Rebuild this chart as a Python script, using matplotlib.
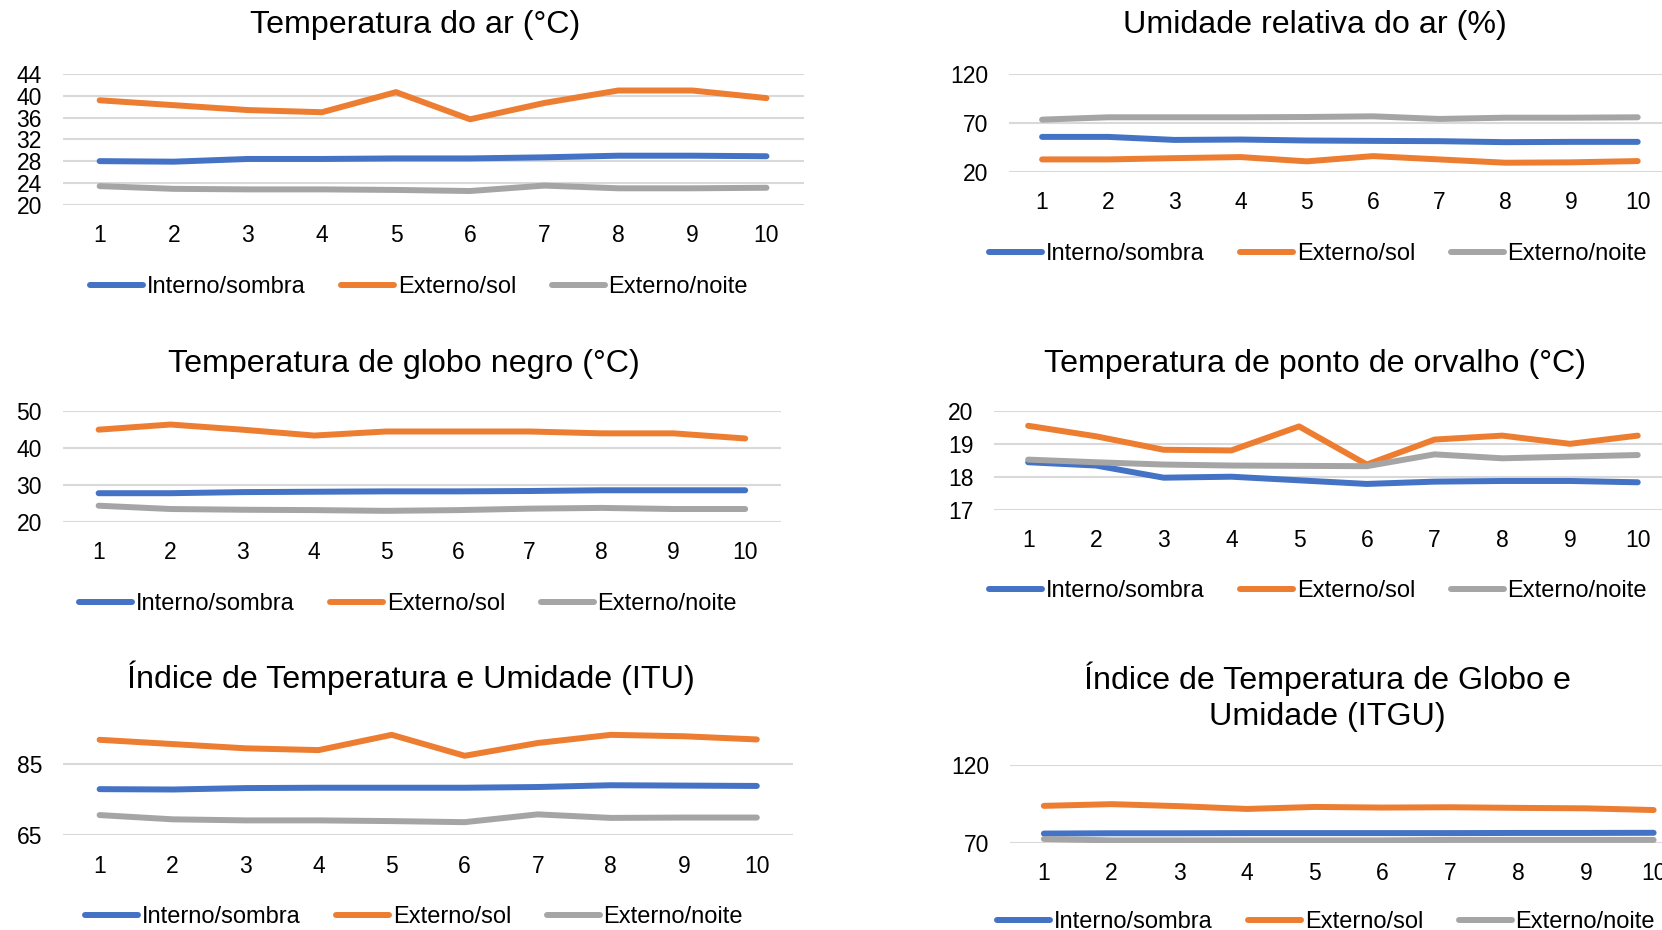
import matplotlib.pyplot as plt

plt.rcParams['font.family'] = ['Liberation Sans', 'DejaVu Sans']

W, H = 1662, 930

dias = list(range(1, 11))
series_nomes = ["Interno/sombra", "Externo/sol", "Externo/noite"]
cores = ["#4472C4", "#ED7D31", "#A5A5A5"]

# Temperatura do ar (°C)
tar_interno = [28.0, 27.9, 28.4, 28.4, 28.5, 28.5, 28.7, 29.0, 29.0, 28.9]
tar_sol = [39.2, 38.3, 37.4, 37.0, 40.7, 35.7, 38.7, 41.0, 41.0, 39.6]
tar_noite = [23.4, 22.9, 22.8, 22.8, 22.7, 22.5, 23.5, 23.0, 23.0, 23.1]

# Umidade relativa do ar (%)
ur_interno = [55.7, 55.7, 52.6, 53.0, 52.0, 51.6, 51.3, 50.3, 50.6, 50.6]
ur_sol = [32.6, 32.6, 33.9, 35.0, 30.6, 36.0, 32.6, 29.2, 29.6, 30.9]
ur_noite = [73.4, 75.8, 75.8, 75.8, 76.1, 76.8, 74.1, 75.4, 75.4, 75.8]

# Temperatura de globo negro (°C)
tgn_interno = [27.7, 27.7, 28.0, 28.1, 28.2, 28.2, 28.3, 28.5, 28.5, 28.5]
tgn_sol = [45.0, 46.4, 45.0, 43.4, 44.5, 44.5, 44.5, 44.0, 44.0, 42.6]
tgn_noite = [24.3, 23.4, 23.2, 23.1, 22.9, 23.1, 23.5, 23.7, 23.4, 23.4]

# Temperatura de ponto de orvalho (°C)
tpo_interno = [18.45, 18.35, 17.98, 18.01, 17.90, 17.79, 17.86, 17.88, 17.88, 17.84]
tpo_sol = [19.56, 19.24, 18.83, 18.81, 19.54, 18.38, 19.14, 19.26, 19.01, 19.26]
tpo_noite = [18.53, 18.45, 18.38, 18.35, 18.34, 18.33, 18.69, 18.57, 18.62, 18.67]

# ITU
itu_interno = [78.0, 77.9, 78.3, 78.4, 78.4, 78.4, 78.6, 79.1, 79.0, 78.9]
itu_sol = [91.9, 90.7, 89.5, 89.0, 93.3, 87.4, 91.0, 93.3, 92.9, 92.0]
itu_noite = [70.7, 69.5, 69.2, 69.2, 69.0, 68.7, 70.9, 69.9, 70.0, 70.0]

# ITGU
itgu_interno = [75.9, 76.1, 76.1, 76.2, 76.2, 76.2, 76.2, 76.3, 76.3, 76.4]
itgu_sol = [93.8, 94.9, 93.6, 91.8, 93.1, 92.7, 92.9, 92.5, 92.2, 91.1]
itgu_noite = [72.4, 71.5, 71.5, 71.5, 71.5, 71.5, 71.8, 71.8, 71.8, 71.8]

fig = plt.figure(figsize=(W / 100, H / 100), dpi=100)


def grafico(caixa, titulo, pos_titulo, pos_legenda, valores, ylim, yticks):
    # caixa em pixels: esquerda, direita, topo, base
    esq, dir_, topo, base = caixa
    ax = fig.add_axes([esq / W, 1 - base / H, (dir_ - esq) / W, (base - topo) / H])
    for nome, cor, ys in zip(series_nomes, cores, valores):
        ax.plot(dias, ys, color=cor, lw=4.3, label=nome,
                solid_capstyle="round", solid_joinstyle="round", zorder=3)
    ax.set_xlim(0.5, 10.5)
    ax.set_ylim(*ylim)
    ax.set_xticks(dias)
    ax.set_yticks(yticks)
    ax.tick_params(axis="both", length=0, labelsize=16.5)
    ax.tick_params(axis="y", pad=15)
    ax.tick_params(axis="x", pad=14)
    ax.grid(axis="y", color="#D9D9D9", lw=1.5, zorder=0)
    for s in ax.spines.values():
        s.set_visible(False)
    fig.text(pos_titulo[0] / W, 1 - pos_titulo[1] / H, titulo, fontsize=23.2,
             ha="center", va="center", linespacing=1.25)
    ax.legend(loc="center", bbox_to_anchor=(pos_legenda[0] / W, 1 - pos_legenda[1] / H),
              bbox_transform=fig.transFigure, ncol=3, frameon=False, fontsize=17,
              handlelength=2.25, handletextpad=0.15, columnspacing=1.5, borderpad=0)
    return ax


grafico((62.6, 803.5, 74.2, 204.6), "Temperatura do ar (°C)", (415, 25), (419, 287),
        [tar_interno, tar_sol, tar_noite], (20, 44), range(20, 45, 4))
grafico((1009, 1670.8, 74.2, 171.7), "Umidade relativa do ar (%)", (1315, 25), (1318, 254),
        [ur_interno, ur_sol, ur_noite], (20, 120), [20, 70, 120])
grafico((62.7, 781.1, 411.3, 521.5), "Temperatura de globo negro (°C)", (404, 364), (408, 604),
        [tgn_interno, tgn_sol, tgn_noite], (20, 50), [20, 30, 40, 50])
grafico((994.3, 1671.6, 411.3, 509.9), "Temperatura de ponto de orvalho (°C)", (1315, 364), (1318, 591),
        [tpo_interno, tpo_sol, tpo_noite], (17, 20), [17, 18, 19, 20])
grafico((63.1, 793.3, 728.8, 835.3), "Índice de Temperatura e Umidade (ITU)", (411, 678), (414, 917),
        [itu_interno, itu_sol, itu_noite], (65, 95), [65, 85])
grafico((1010, 1687.5, 765.3, 842.7), "Índice de Temperatura de Globo e\nUmidade (ITGU)", (1327, 697),
        (1326, 922), [itgu_interno, itgu_sol, itgu_noite], (70, 120), [70, 120])

fig.savefig("out.png", dpi=100)
